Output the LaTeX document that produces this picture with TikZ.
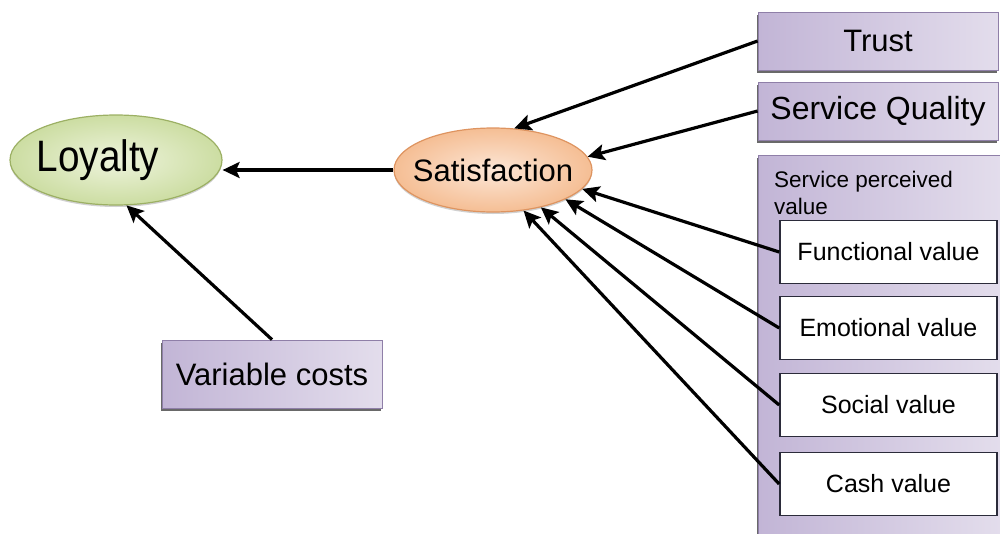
\documentclass[tikz,border=0pt]{standalone}
\usepackage{fontspec}
\setmainfont{Liberation Sans}
\usetikzlibrary{arrows.meta,shadows,shapes.geometric}
\definecolor{lavD}{HTML}{C2B5D6}
\definecolor{lavM}{HTML}{D5CDE2}
\definecolor{lavL}{HTML}{E3DDEC}
\definecolor{lavB}{HTML}{8F7FA8}
\definecolor{grnD}{HTML}{CCDDA2}
\definecolor{grnL}{HTML}{EEF4DD}
\definecolor{grnB}{HTML}{9CB064}
\definecolor{pchD}{HTML}{F5BE94}
\definecolor{pchL}{HTML}{FCE6D6}
\definecolor{pchB}{HTML}{DE9460}
\definecolor{boxB}{HTML}{2B2B3A}
\begin{document}
\begin{tikzpicture}[x=1pt,y=-1pt,
  lavbox/.style={rectangle, draw=lavB, line width=0.8pt, left color=lavD, middle color=lavM, right color=lavL,
    inner sep=0pt, drop shadow={shadow xshift=-1pt, shadow yshift=-3pt, fill=black!65, opacity=0.9}},
  valbox/.style={rectangle, draw=boxB, line width=1.6pt, fill=white, inner sep=0pt,
    minimum width=217pt, minimum height=63pt, font=\fontsize{25}{28}\selectfont},
  oval/.style={ellipse, inner sep=0pt, line width=1.2pt},
  arr/.style={line width=3.2pt, -{Stealth[length=17pt,width=16pt,inset=3.5pt]}}
]
\useasboundingbox (0,0) rectangle (1000,533);

% ellipses
\node[oval, draw=grnB, inner color=grnL, outer color=grnD,
  minimum width=212pt, minimum height=90pt,
  drop shadow={shadow xshift=0pt, shadow yshift=-2pt, fill=black!30, opacity=0.6}]
  (loy) at (116,160) {\makebox[0pt]{\fontsize{44}{48}\selectfont\scalebox{0.88}[1]{Loyalty}\hspace*{36pt}}};
\node[oval, draw=pchB, inner color=pchL, outer color=pchD,
  minimum width=198pt, minimum height=84pt,
  drop shadow={shadow xshift=0pt, shadow yshift=-2pt, fill=black!30, opacity=0.6},
  font=\fontsize{31}{34}\selectfont]
  (sat) at (493,170) {\makebox[0pt]{Satisfaction}};

% right boxes
\node[lavbox, minimum width=240pt, minimum height=58pt, font=\fontsize{31}{34}\selectfont]
  (trust) at (878,41) {Trust};
\node[lavbox, minimum width=240pt, minimum height=58pt, font=\fontsize{32}{34}\selectfont]
  (sq) at (878,111) {Service Quality};
\node[lavbox, minimum width=242pt, minimum height=390pt] (spv) at (879,350) {};
\node[anchor=north west, align=left, inner sep=0pt, font=\fontsize{22.5}{27}\selectfont]
  (spvt) at (774,170.5) {Service perceived\\value};

\node[valbox] (fun) at (888.5,252) {Functional value};
\node[valbox] (emo) at (888.5,328) {Emotional value};
\node[valbox] (soc) at (888.5,405) {Social value};
\node[valbox] (cash) at (888.5,484) {Cash value};

% variable costs
\node[lavbox, minimum width=220pt, minimum height=68pt, font=\fontsize{31}{34}\selectfont]
  (var) at (272,374) {Variable costs};

% connectors
\draw[arr] (sat.west) -- (sat.west -| loy.east);
\draw[arr] (var.north) -- (loy.-77);
\draw[arr] (trust.west) -- (sat.63);
\draw[arr] (sq.west) -- (sat.8);
\draw[arr] (fun.west) -- (sat.-12);
\draw[arr] (emo.west) -- (sat.-22);
\draw[arr] (soc.west) -- (sat.-38);
\draw[arr] (cash.west) -- (sat.-53);
\end{tikzpicture}
\end{document}
